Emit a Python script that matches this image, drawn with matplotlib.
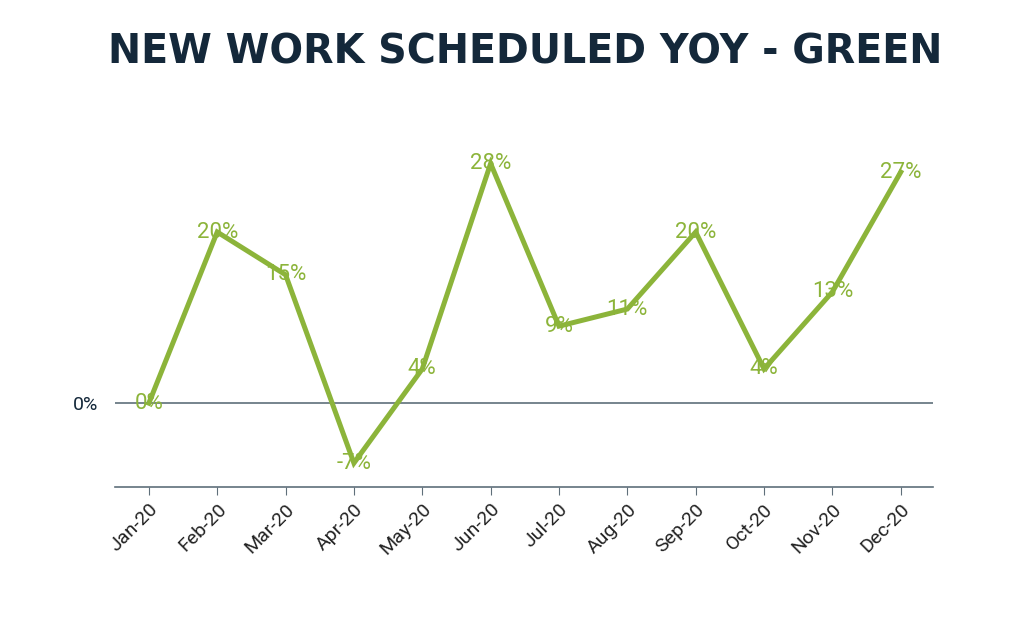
#!/usr/bin/env python3
"""New work scheduled YoY - Green"""
import matplotlib as mpl
mpl.use('Agg')
import matplotlib.pyplot as plt

MONTHS = ["Jan-20", "Feb-20", "Mar-20", "Apr-20", "May-20", "Jun-20",
          "Jul-20", "Aug-20", "Sep-20", "Oct-20", "Nov-20", "Dec-20"]
VALUES = [0, 20, 15, -7, 4, 28, 9, 11, 20, 4, 13, 27]
LABELS = ["0%", "20%", "15%", "-7%", "4%", "28%", "9%", "11%", "20%", "4%", "13%", "27%"]

GREEN = "#8cb43a"
NAVY = "#14283a"
GRAY = "#5f6f7a"

fig = plt.figure(figsize=(10.24, 6.35), dpi=100)
ax = fig.add_axes([0.112, 0.233, 0.799, 0.562])
x = list(range(len(MONTHS)))
ax.plot(x, VALUES, color=GREEN, lw=3.6, solid_joinstyle="miter", zorder=3)
for xi, v, lab in zip(x, VALUES, LABELS):
    ax.text(xi, v, lab, color=GREEN, fontsize=16, ha="center", va="center",
            family="Roboto", zorder=4)

ax.axhline(0, color=GRAY, lw=1.2, zorder=1)
ax.set_xlim(-0.5, 11.47)
ax.set_ylim(-9.8, 31.9)
ax.set_xticks(x)
ax.set_xticklabels(MONTHS, rotation=45, ha="right", rotation_mode="anchor",
                   fontsize=14, color="#222222", family="Roboto")
ax.set_yticks([0])
ax.set_yticklabels(["0%"], fontsize=14, color=NAVY, family="Roboto")
ax.tick_params(axis="y", length=0, pad=12)
ax.tick_params(axis="x", color=GRAY, length=6)
for s in ["top", "right", "left"]:
    ax.spines[s].set_visible(False)
ax.spines["bottom"].set_color(GRAY)
ax.spines["bottom"].set_linewidth(1.2)

fig.text(0.513, 0.918, "NEW WORK SCHEDULED YOY - GREEN", ha="center", va="center",
         fontsize=28.5, fontweight="heavy", color=NAVY, family="DejaVu Sans")

fig.savefig("out.png", dpi=100)
